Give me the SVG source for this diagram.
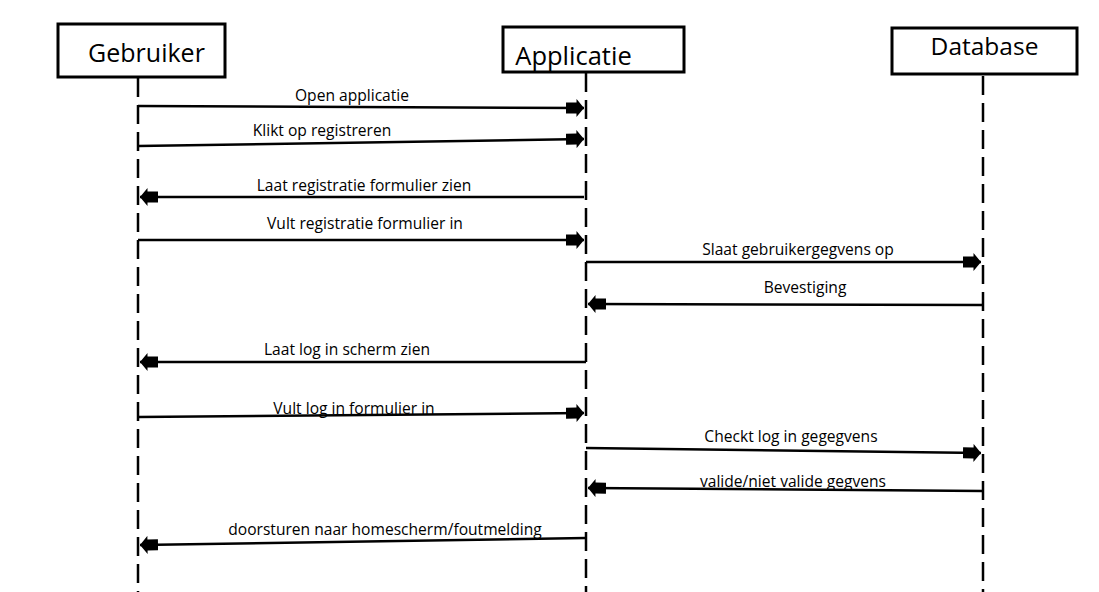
<svg xmlns="http://www.w3.org/2000/svg" width="1099" height="592" viewBox="0 0 1099 592">
<style>
.box{fill:#fff;stroke:#000;stroke-width:3}
.life{stroke:#000;stroke-width:2.5;stroke-dasharray:19 8;fill:none}
.msg{stroke:#000;stroke-width:2.5;fill:none}
.t{font-family:"Open Sans","Noto Sans",sans-serif;fill:#000;text-anchor:middle}
.lbl{font-size:15.6px}
</style>
<defs>
<marker id="ah" markerUnits="userSpaceOnUse" viewBox="-18 -9 19 18" refX="0" refY="0" markerWidth="19" markerHeight="18" orient="auto">
<path d="M-18,-5.5 H-7.5 V-9 L0,0 L-7.5,9 V5.5 H-18 Z" fill="#000"/>
</marker>
</defs>
<rect width="1099" height="592" fill="#fff"/>
<g id="lifelines">
<line class="life" x1="138" y1="78" x2="138" y2="592"/>
<line class="life" x1="586" y1="73" x2="586" y2="592"/>
<line class="life" x1="983" y1="76" x2="983" y2="592"/>
</g>
<g id="gebruiker">
<rect class="box" x="58" y="24" width="167" height="53"/>
<text class="t" x="146.5" y="62" font-size="25">Gebruiker</text>
</g>
<g id="applicatie">
<rect class="box" x="503" y="27" width="181" height="45"/>
<text class="t" x="573.5" y="65" font-size="25.5">Applicatie</text>
</g>
<g id="database">
<rect class="box" x="892" y="28" width="185" height="46"/>
<text class="t" x="984.5" y="55" font-size="24.5">Database</text>
</g>
<g id="connectors">
<path class="msg" d="M138,106 L584,108" marker-end="url(#ah)"/>
<path class="msg" d="M138,146 L584,139" marker-end="url(#ah)"/>
<path class="msg" d="M584,197 L140,197" marker-end="url(#ah)"/>
<path class="msg" d="M138,240 L584,240" marker-end="url(#ah)"/>
<path class="msg" d="M586,262 L981,262" marker-end="url(#ah)"/>
<path class="msg" d="M983,305 L588,304" marker-end="url(#ah)"/>
<path class="msg" d="M586,362 L140,362" marker-end="url(#ah)"/>
<path class="msg" d="M138,417 L584,413" marker-end="url(#ah)"/>
<path class="msg" d="M586,448 L981,453" marker-end="url(#ah)"/>
<path class="msg" d="M983,491 L588,488" marker-end="url(#ah)"/>
<path class="msg" d="M586,538 L140,545" marker-end="url(#ah)"/>
</g>
<g id="labels">
<text class="t lbl" x="352" y="101">Open applicatie</text>
<text class="t lbl" x="322" y="136">Klikt op registreren</text>
<text class="t lbl" x="364" y="191">Laat registratie formulier zien</text>
<text class="t lbl" x="365" y="229">Vult registratie formulier in</text>
<text class="t lbl" x="798" y="255">Slaat gebruikergegvens op</text>
<text class="t lbl" x="805" y="293">Bevestiging</text>
<text class="t lbl" x="347" y="355">Laat log in scherm zien</text>
<text class="t lbl" x="354" y="414">Vult log in formulier in</text>
<text class="t lbl" x="791" y="442">Checkt log in gegegvens</text>
<text class="t lbl" x="793" y="487">valide/niet valide gegvens</text>
<text class="t lbl" x="385" y="535">doorsturen naar homescherm/foutmelding</text>
</g>
</svg>
